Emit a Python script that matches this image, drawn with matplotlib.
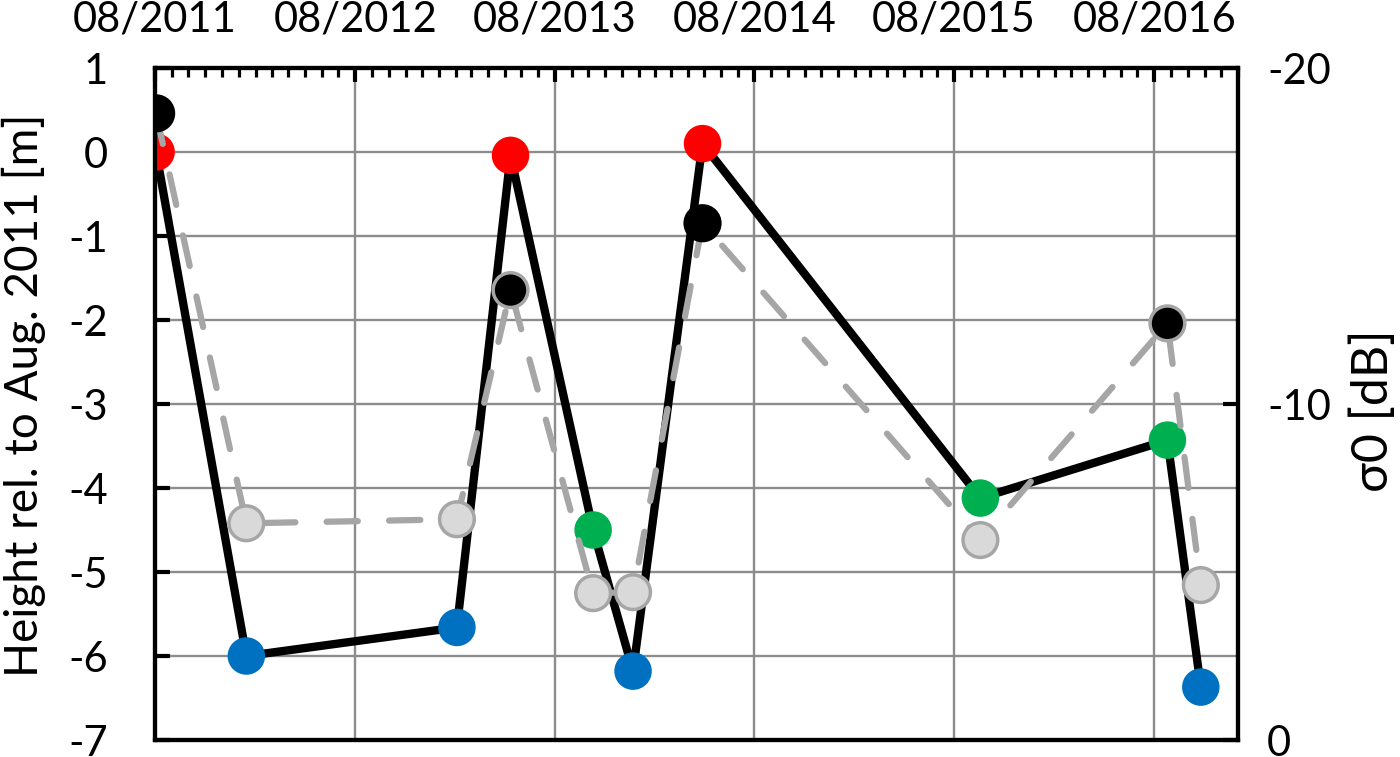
import datetime as dt
import matplotlib
matplotlib.use("Agg")
import matplotlib.pyplot as plt
import matplotlib.dates as mdates

plt.rcParams['font.family'] = ['Lato', 'DejaVu Sans']
plt.rcParams['axes.unicode_minus'] = False

# Data
dates = ["2011-08-03", "2012-01-15", "2013-02-03", "2013-05-12", "2013-10-10",
         "2013-12-22", "2014-04-28", "2015-09-18", "2016-08-25", "2016-10-25"]
height = [0.0, -6.0, -5.66, -0.04, -4.5, -6.18, 0.1, -4.12, -3.43, -6.37]
height_colors = ["#ff0000", "#0070c0", "#0070c0", "#ff0000", "#00b050",
                 "#0070c0", "#ff0000", "#00b050", "#00b050", "#0070c0"]
sigma0 = [-18.65, -6.45, -6.57, -13.39, -4.37, -4.40, -15.38, -5.95, -12.4, -4.61]
sigma0_colors = ["black", "#d9d9d9", "#d9d9d9", "black", "#d9d9d9",
                 "#d9d9d9", "black", "#d9d9d9", "black", "#d9d9d9"]
sigma0_edges = ["black", "#a6a6a6", "#a6a6a6", "#a6a6a6", "#a6a6a6",
                "#a6a6a6", "black", "#a6a6a6", "#a6a6a6", "#a6a6a6"]
height_ticks = [-7, -6, -5, -4, -3, -2, -1, 0, 1]
sigma0_ticks = [0, -10, -20]

x = [dt.datetime.strptime(d, "%Y-%m-%d") for d in dates]

fig = plt.figure(figsize=(14, 7.57), dpi=100)
ax = fig.add_axes([155/1400, 1 - 740/757, (1238-155)/1400, (740-68)/757])
ax2 = ax.twinx()

# Height (left axis)
ax.plot(x, height, color="black", lw=6, zorder=2)
ax.scatter(x, height, s=27**2, c=height_colors, linewidths=0, zorder=3)

# sigma0 (right axis)
ax2.plot(x, sigma0, color="#a6a6a6", lw=4.5, dashes=(5, 5),
         dash_capstyle="round", zorder=2)
ax2.scatter(x, sigma0, s=25**2, c=sigma0_colors, edgecolors=sigma0_edges,
            linewidths=2.5, zorder=3)

ax.set_xlim(dt.datetime(2011, 8, 1), dt.datetime(2017, 1, 1))
ax.set_ylim(-7, 1)
ax.set_yticks(height_ticks)
ax2.set_ylim(0, -20)
ax2.set_yticks(sigma0_ticks)

ax.xaxis.tick_top()
ax.xaxis.set_major_locator(mdates.MonthLocator(bymonth=8))
ax.xaxis.set_minor_locator(mdates.MonthLocator())
ax.xaxis.set_major_formatter(mdates.DateFormatter("%m/%Y"))

ax.tick_params(axis="x", which="major", direction="in", length=10, width=3,
               labelsize=30, pad=21)
ax.tick_params(axis="x", which="minor", direction="in", length=6.5, width=2.3)
ax.tick_params(axis="y", direction="in", length=11, width=3, labelsize=30, pad=34)
ax2.tick_params(axis="y", direction="in", length=11, width=3, labelsize=30, pad=21)

ax.grid(True, which="major", color="#8c8c8c", lw=1.7)
ax.set_axisbelow(True)

for a in (ax, ax2):
    for s in a.spines.values():
        s.set_linewidth(3)
        s.set_color("black")

ax.set_ylabel("Height rel. to Aug. 2011 [m]", fontsize=33)
ax.yaxis.set_label_coords((46-155)/1083, (740-395)/672)
ax2.set_ylabel("σ0 [dB]", fontsize=36, rotation=90)
ax2.yaxis.set_label_coords((1350-155)/1083, (740-411)/672)

fig.savefig("out.png", dpi=100)
